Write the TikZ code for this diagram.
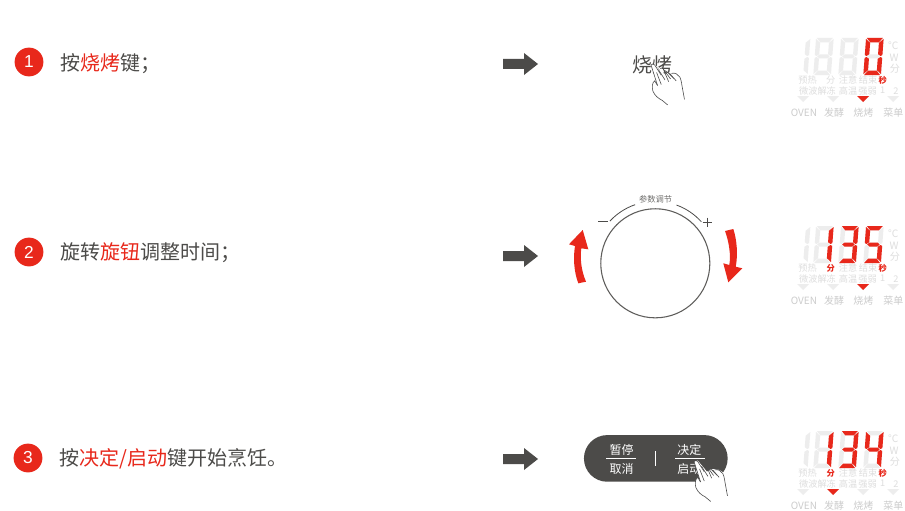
\documentclass[tikz,border=0pt]{standalone}
\usepackage{fontspec}
\setmainfont{Noto Sans CJK SC}
\newfontfamily\latinfont{Liberation Sans}
\definecolor{rd}{HTML}{E8281B}
\definecolor{dk}{HTML}{4C4B49}
\definecolor{gh}{HTML}{EDEDED}
\definecolor{gt}{HTML}{DEDEDE}
\newcommand{\fsz}[1]{\fontsize{#1}{#1}\selectfont}
\def\segA{(0.8,-37)--(16.7,-37)--(13,-32.6)--(4.5,-32.6)--cycle}
\def\segB{(17.6,-36)--(17.6,-20)--(15.8,-19)--(13.2,-20.8)--(13.2,-32.2)--cycle}
\def\segC{(17.6,-17)--(17.6,-1)--(13.2,-4.8)--(13.2,-16.2)--(15.8,-18)--cycle}
\def\segD{(0.8,0)--(16.7,0)--(13,-4.4)--(4.5,-4.4)--cycle}
\def\segE{(0,-17)--(1.8,-18)--(4.4,-16.2)--(4.4,-4.8)--(0,-1)--cycle}
\def\segF{(0,-36)--(4.4,-32.2)--(4.4,-20.8)--(1.8,-19)--(0,-20)--cycle}
\def\segG{(2.5,-18.5)--(4.8,-20.5)--(12.8,-20.5)--(15,-18.5)--(12.8,-16.5)--(4.8,-16.5)--cycle}
% \sdigit{x}{bottom y}{colour}{segments}
\newcommand{\sdigit}[4]{%
  \begin{scope}[shift={(#1,#2)},xslant=0.075]
    \foreach \s in {#4}{%
      \fill[#3] \csname seg\s\endcsname;
    }
  \end{scope}}
% hand, with origin at the finger tip
\newcommand{\handshape}[2]{%
  \begin{scope}[shift={(#1,#2)},scale=0.93]
    \fill[white] (0,0) -- (4,-1) -- (14,11) .. controls (18,7) and (22,8) .. (27,9)
      .. controls (30,10) and (33,12) .. (34,18) -- (34,26) -- (36,37) -- (20,42)
      -- (16,43) .. controls (10,36) and (4,36) .. (2,28) -- (2,20) -- (4,17) -- (7,22) -- cycle;
    \draw[handline] (0,0) .. controls (1,-1.5) and (3,-1.5) .. (4,0) -- (11,11)
      (0,0) -- (7,22) (6,8) -- (11,21);
    \draw[handline] (8,5) -- (15,16) (10,4) .. controls (11,3) and (12,3) .. (13,4) -- (21,15)
      (13,4) -- (19,18);
    \draw[handline] (14,7) .. controls (15,6) and (16,6) .. (17,7) -- (25,15)
      (20,9) -- (27,17);
    \draw[handline] (22,9) .. controls (26,8) and (29,10) .. (31,13)
      .. controls (33,17) and (33,22) .. (34,26) -- (36,37);
    \draw[handline] (7,22) -- (4,17) .. controls (1,19) and (1,24) .. (2,28)
      .. controls (4,33) and (8,36) .. (12,38) -- (18,43);
  \end{scope}}
% ghost display. #1 = vertical offset
\newcommand{\ghostpanel}[1]{%
  \sdigit{790}{75+#1}{gh}{B,C}
  \sdigit{813.3}{75+#1}{gh}{A,B,C,D,E,F,G}
  \sdigit{838.3}{75+#1}{gh}{A,B,C,D,E,F,G}
  \sdigit{863.3}{75+#1}{gh}{A,B,C,D,E,F,G}
  \node[gl,font=\fsz{7.6}] at (893.3,45.7+#1) {°C};
  \node[gl,font=\fsz{7.6}] at (894,57.3+#1) {W};
  \node[gl,font=\fsz{7.6}] at (895,68.3+#1) {分};
  \node[gl] at (807.5,80+#1) {预热};
  \node[gl] at (848,80+#1) {注意};
  \node[gl] at (868,80+#1) {结束};
  \node[gl] at (817.5,90.7+#1) {微波解冻};
  \node[gl] at (848,90.7+#1) {高温};
  \node[gl] at (867.5,90.7+#1) {强弱};
  \node[gl] at (882.7,90.7+#1) {1};
  \node[gl] at (896,90.7+#1) {2};
  \foreach \tx in {803,833,863,893} {\fill[gh] (\tx-6,96+#1) -- (\tx+6,96+#1) -- (\tx,102+#1) -- cycle;}
  \node[bl] at (804,112.5+#1) {OVEN};
  \node[bl] at (834,112.5+#1) {发酵};
  \node[bl] at (863.3,112.5+#1) {烧烤};
  \node[bl] at (893.3,112.5+#1) {菜单};
  \node[rl] at (882.7,80+#1) {秒};
}
\tikzset{
  x=0.75pt,y=-0.75pt,
  handline/.style={draw=black!70,line width=0.45pt},
  gl/.style={inner sep=0,text=gt,font=\fsz{6.9}},
  bl/.style={inner sep=0,text=gt!92!black,font=\fsz{7.5}},
  rl/.style={inner sep=0,text=rd,font=\bfseries\fsz{6.2}},
  stepdot/.style={circle,fill=rd,minimum size=21.6pt,inner sep=0,text=white,font=\latinfont\fsz{13}},
  steptext/.style={anchor=west,inner sep=0,text=dk,font=\fsz{15}},
  pilltext/.style={inner sep=0,text=white,font=\fsz{9}},
  pillrule/.style={draw=white,line width=0.6pt},
  ring/.style={draw=dk!90,line width=0.8pt},
}
\begin{document}
\begin{tikzpicture}
\useasboundingbox (0,0) rectangle (905,510);
\fill[white] (0,0) rectangle (905,510);
% step badges and texts
\node[stepdot] (n1) at (29,62) {1};
\node[stepdot] (n2) at (29,252) {2};
\node[stepdot] (n3) at (28,458) {3};
\node[steptext] (t1) at (60,64) {按\textcolor{rd}{烧烤}键；};
\node[steptext] (t2) at (60,253) {旋转\textcolor{rd}{旋钮}调整时间；};
\node[steptext] (t3) at (59,459) {按\textcolor{rd}{决定/启动}键开始烹饪。};
% block arrows
\foreach \ay in {64,256,459} {
  \fill[dk] (503,\ay-5) -- (524,\ay-5) -- (524,\ay-11) -- (538,\ay) -- (524,\ay+11) -- (524,\ay+5) -- (503,\ay+5) -- cycle;
}
% row 1 button
\node[inner sep=0,text=dk,font=\fsz{15}] (bake) at (652,65) {烧烤};
\handshape{651}{65}
% row 2 knob
\node[circle,ring,minimum size=81.8pt,inner sep=0] (knob) at (655.3,263.3) {};
\node[inner sep=0,text=dk!80,font=\fsz{6.2}] (knobt) at (655.6,199) {参数调节};
\draw[dk,line width=0.6pt] (knob.center) ++(-137:62) arc[start angle=-137,end angle=-109,radius=62];
\draw[dk,line width=0.6pt] (knob.center) ++(-70:62) arc[start angle=-70,end angle=-42,radius=62];
\draw[dk,line width=0.6pt] (598,221) -- (608,221);
\draw[dk,line width=0.6pt] (702.5,222) -- (712,222) (707.2,217.5) -- (707.2,227);
\fill[rd] (725,231) -- (733.3,229) .. controls (737,240) and (738,255) .. (735.7,266.7)
  -- (742.3,268.3) -- (728.3,282.3) -- (723.3,263.3) -- (729.3,265)
  .. controls (731,255) and (729,242) .. cycle;
\fill[rd] (578.3,283.3) -- (586,281.7) .. controls (581,270) and (580,258) .. (581.3,248.3)
  -- (588.3,249.3) -- (582.7,230) -- (569,244.3) -- (575,246)
  .. controls (573,258) and (574,272) .. cycle;
% row 3 pill
\node[draw=none,fill=dk,rounded corners=17.5pt,minimum width=107.8pt,minimum height=35pt,inner sep=0] (pill) at (655.8,458.4) {};
\node[pilltext] (pa) at (621.7,449.5) {暂停};
\node[pilltext] (pb) at (621.7,468.5) {取消};
\node[pilltext] (pc) at (689.3,449.5) {决定};
\node[pilltext] (pd) at (689.3,468.5) {启动};
\draw[pillrule] (606,458.4) -- (636,458.4) (675,458.4) -- (705,458.4);
\draw[white,line width=0.5pt] (655.7,451) -- (655.7,466);
\handshape{694}{461.5}
% displays
\ghostpanel{0}
\node[gl] at (830.7,80) {分};
\ghostpanel{188}
\ghostpanel{393}
\sdigit{863.3}{75}{rd}{A,B,C,D,E,F}
\sdigit{813.3}{263}{rd}{B,C}
\sdigit{838.3}{263}{rd}{A,B,C,D,G}
\sdigit{863.3}{263}{rd}{A,C,D,F,G}
\sdigit{813.3}{468}{rd}{B,C}
\sdigit{838.3}{468}{rd}{A,B,C,D,G}
\sdigit{863.3}{468}{rd}{B,C,F,G}
\node[rl] at (830.7,268) {分};
\node[rl] at (830.7,473) {分};
\fill[rd] (857,96) -- (869,96) -- (863,102) -- cycle;
\fill[rd] (857,284) -- (869,284) -- (863,290) -- cycle;
\fill[rd] (827,489) -- (839,489) -- (833,495) -- cycle;
\end{tikzpicture}
\end{document}
